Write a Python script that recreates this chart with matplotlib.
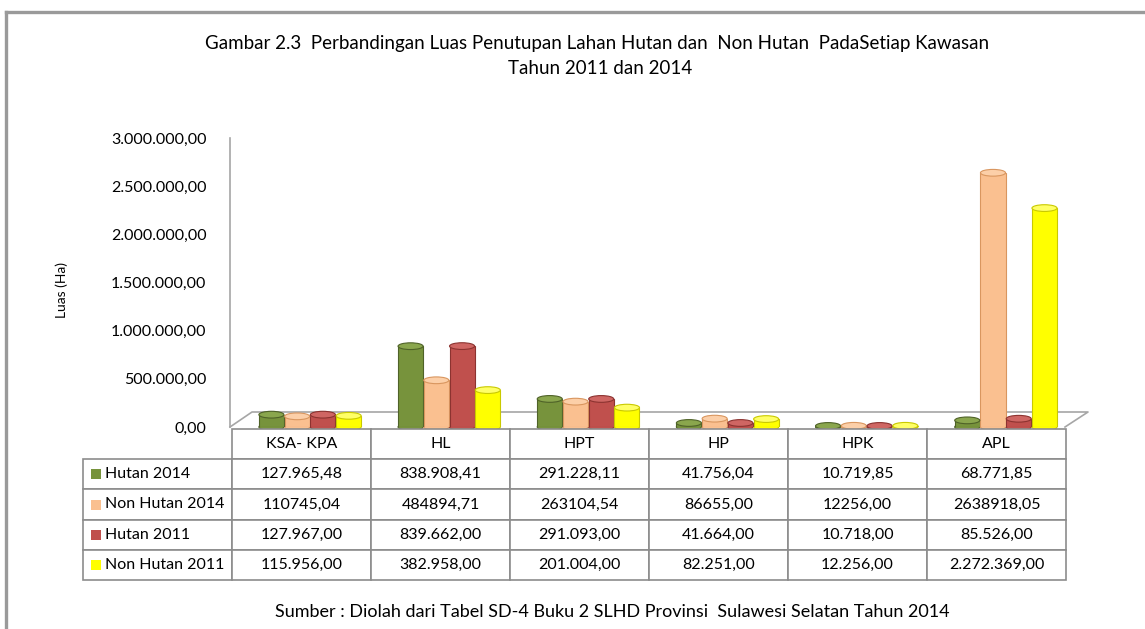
import matplotlib
matplotlib.use("Agg")
import matplotlib.pyplot as plt
from matplotlib.patches import Ellipse, Rectangle
from matplotlib.lines import Line2D
import numpy as np

# ---------------- data ----------------
kawasan = ["KSA- KPA", "HL", "HPT", "HP", "HPK", "APL"]
series_names = ["Hutan 2014", "Non Hutan 2014", "Hutan 2011", "Non Hutan 2011"]
hutan_2014 = [127965.48, 838908.41, 291228.11, 41756.04, 10719.85, 68771.85]
non_hutan_2014 = [110745.04, 484894.71, 263104.54, 86655.00, 12256.00, 2638918.05]
hutan_2011 = [127967.00, 839662.00, 291093.00, 41664.00, 10718.00, 85526.00]
non_hutan_2011 = [115956.00, 382958.00, 201004.00, 82251.00, 12256.00, 2272369.00]
yticks = [0, 500000, 1000000, 1500000, 2000000, 2500000, 3000000]
# the source table prints this row without thousands separators
no_group_rows = ["Non Hutan 2014"]

colors = ["#77933C", "#FAC090", "#C0504D", "#FFFF00"]
edges = ["#4F6228", "#D9965F", "#8C3330", "#C9C900"]
caps = ["#8AA64D", "#FCCFA8", "#CF6663", "#FFFF66"]

FONT = "Lato"


def fmt_id(v, group=True):
    """Indonesian number style: 1.234.567,89"""
    s = f"{v:,.2f}" if group else f"{v:.2f}"
    return s.replace(",", "X").replace(".", ",").replace("X", ".")


W, H = 1145, 629
fig = plt.figure(figsize=(W / 100, H / 100), dpi=100)
fig.patch.set_facecolor("white")


def px(x0, y0, x1, y1):
    """pixel box (top-left origin) -> figure fraction rect"""
    return [x0 / W, 1 - y1 / H, (x1 - x0) / W, (y1 - y0) / H]


# outer frame (gray left + top border)
fig.add_artist(Line2D([6 / W, 6 / W], [0, 1 - 12 / H], color="#9A9A9A", lw=2.4))
fig.add_artist(Line2D([6 / W, 1], [1 - 12 / H, 1 - 12 / H], color="#9A9A9A", lw=2.4))

# ---------------- chart ----------------
ax = fig.add_axes(px(230, 138, 1065, 427))
series = [hutan_2014, non_hutan_2014, hutan_2011, non_hutan_2011]
x = np.arange(len(kawasan))
bw = 0.18
step = 0.185
shift = 0.075
cap_h = 70000

for i, vals in enumerate(series):
    xs = x + shift + (i - 1.5) * step
    ax.bar(xs, vals, width=bw, color=colors[i], edgecolor=edges[i],
           linewidth=0.8, zorder=3)
    for xi, v in zip(xs, vals):
        ax.add_patch(Ellipse((xi, 0), bw, cap_h, facecolor=colors[i],
                             edgecolor=edges[i], lw=0.8, zorder=2, clip_on=False))
        ax.add_patch(Ellipse((xi, v), bw, cap_h, facecolor=caps[i],
                             edgecolor=edges[i], lw=0.8, zorder=4, clip_on=False))

ax.set_xlim(-0.5, len(kawasan) - 0.5)
ax.set_ylim(0, 3000000)
ax.set_yticks(yticks)
ax.set_yticklabels([fmt_id(v) for v in yticks], fontfamily=FONT, fontsize=11.5)
ax.set_xticks([])
ax.tick_params(axis="y", length=0, pad=17)
for s in ["top", "right", "bottom"]:
    ax.spines[s].set_visible(False)
ax.spines["left"].set_color("#A6A6A6")
ax.spines["left"].set_linewidth(1.2)

# pseudo 3D floor
fx = [0.0, 22 / 835, 858 / 835, 1.0]
fy = [0.0, 15 / 289, 15 / 289, 0.0]
ax.plot(fx, fy, transform=ax.transAxes, color="#A6A6A6", lw=1.2,
        clip_on=False, zorder=1)

fig.text(62 / W, 1 - 290 / H, "Luas (Ha)", rotation=90, ha="center",
         va="center", fontfamily=FONT, fontsize=10)

# ---------------- data table ----------------
tax = fig.add_axes(px(83, 429, 1066, 580))
tax.axis("off")
rows = [[name] + [fmt_id(v, name not in no_group_rows) for v in vals]
        for name, vals in zip(series_names, series)]
cell_text = [[""] + kawasan] + rows
lab_w = 149 / 983
col_w = (1 - lab_w) / len(kawasan)
tbl = tax.table(cellText=cell_text, colWidths=[lab_w] + [col_w] * len(kawasan),
                cellLoc="center", bbox=[0, 0, 1, 1])
tbl.auto_set_font_size(False)
for (r, c), cell in tbl.get_celld().items():
    cell.set_edgecolor("#8C8C8C")
    cell.set_linewidth(1.2)
    cell.get_text().set_fontfamily(FONT)
    cell.get_text().set_fontsize(11.5)
    if r == 0 and c == 0:
        cell.visible_edges = ""
    if c == 0 and r > 0:
        cell.get_text().set_ha("left")
        cell._loc = "left"
        cell.PAD = 0.15

nrows = len(cell_text)
for i in range(len(series_names)):
    yc = 1 - (i + 1.5) / nrows
    tax.add_patch(Rectangle((8 / 983, yc - 5 / 151), 10 / 983, 10 / 151,
                            transform=tax.transAxes, facecolor=colors[i],
                            edgecolor="none", zorder=5, clip_on=False))

# ---------------- titles ----------------
fig.text(597 / W, 1 - 44 / H,
         "Gambar 2.3  Perbandingan Luas Penutupan Lahan Hutan dan  Non Hutan  PadaSetiap Kawasan",
         ha="center", va="center", fontfamily=FONT, fontsize=13.5)
fig.text(600 / W, 1 - 68 / H, "Tahun 2011 dan 2014", ha="center", va="center",
         fontfamily=FONT, fontsize=13.5)
fig.text(612 / W, 1 - 612 / H,
         "Sumber : Diolah dari Tabel SD-4 Buku 2 SLHD Provinsi  Sulawesi Selatan Tahun 2014",
         ha="center", va="center", fontfamily=FONT, fontsize=13)

fig.savefig("out.png", dpi=100)
